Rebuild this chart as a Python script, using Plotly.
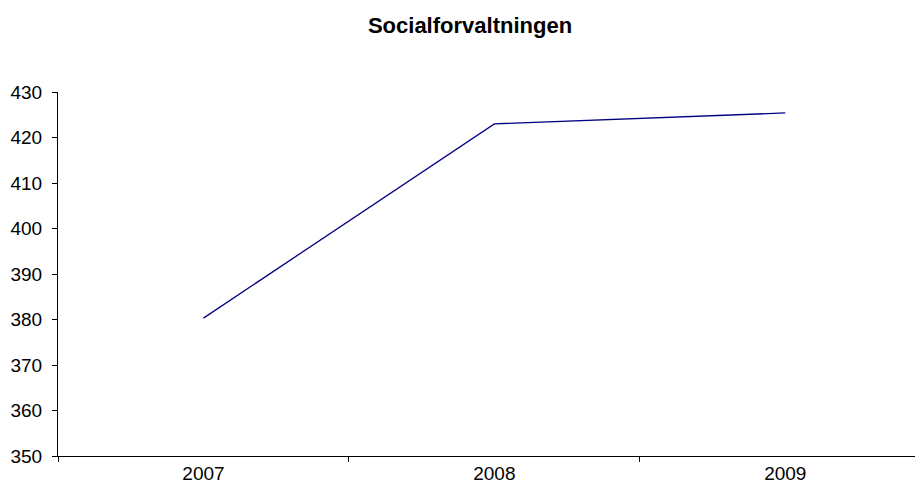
import plotly.graph_objects as go

years = ["2007", "2008", "2009"]
values = [380.3, 423.0, 425.4]
y_ticks = [350, 360, 370, 380, 390, 400, 410, 420, 430]

# page body has an 8px default margin; the figure is sized/offset to compensate
W, H = 915, 485

fig = go.Figure()
fig.add_trace(go.Scatter(
    x=years, y=values, mode="lines",
    line=dict(color="#000080", width=1.3),
    showlegend=False, hoverinfo="x+y",
))

fig.update_layout(
    width=W, height=H,
    margin=dict(l=50, r=1, t=84, b=37),
    paper_bgcolor="white", plot_bgcolor="white",
    font=dict(family="Liberation Sans, Arial, sans-serif", size=19, color="black"),
    title=dict(text="<b>Socialforvaltningen</b>", x=(470 - 8) / W, xref="container",
               xanchor="center", y=1 - 17 / H, yref="container", yanchor="middle",
               font=dict(size=22, color="black")),
)
fig.update_xaxes(
    type="category", range=[-0.5, 2.47],
    showline=True, linecolor="black", linewidth=1,
    ticks="outside", ticklen=5, tickcolor="black", tickson="boundaries",
    showgrid=False, zeroline=False,
)
fig.update_yaxes(
    range=[350, 430], tickvals=y_ticks,
    showline=True, linecolor="black", linewidth=1,
    ticks="outside", ticklen=5, tickcolor="black",
    ticklabelstandoff=6,
    showgrid=False, zeroline=False,
)

fig.write_html("out.html")
